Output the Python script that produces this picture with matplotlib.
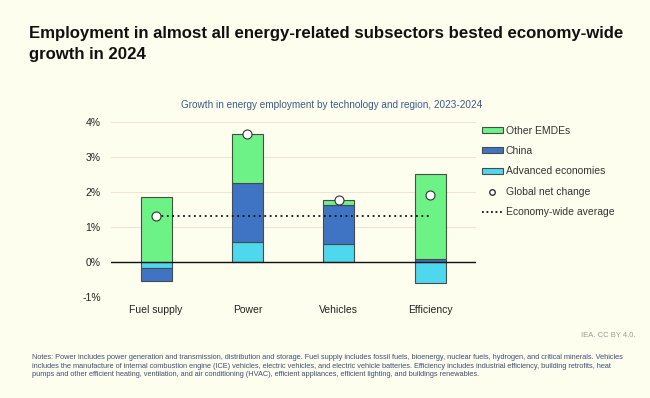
import matplotlib.pyplot as plt
import numpy as np
from matplotlib.patches import Patch
from matplotlib.lines import Line2D

plt.rcParams['font.family'] = ['Liberation Sans', 'DejaVu Sans']

# data (percent growth 2023-2024)
sectors = ['Fuel supply', 'Power', 'Vehicles', 'Efficiency']
advanced = [-0.17, 0.56, 0.52, -0.61]
china = [-0.37, 1.69, 1.10, 0.09]
other_emdes = [1.87, 1.40, 0.15, 2.44]
net_change = [1.32, 3.65, 1.77, 1.92]
economy_avg = 1.31

bg = '#FEFEEF'
c_other = '#6CF285'
c_china = '#3F74C4'
c_adv = '#4DD8EE'
edge = '#4A4A4A'

fig = plt.figure(figsize=(6.5, 3.98), dpi=100, facecolor=bg)
ax = fig.add_axes([0.170, 0.254, 0.562, 0.439])
ax.set_facecolor(bg)

x = np.arange(len(sectors))
w = 0.34

# stack positives up from zero and negatives down from zero
pos_base = np.zeros(len(x))
neg_base = np.zeros(len(x))
for vals, col in [(advanced, c_adv), (china, c_china), (other_emdes, c_other)]:
    vals = np.array(vals)
    bottoms = np.where(vals >= 0, pos_base, neg_base)
    ax.bar(x, vals, w, bottom=bottoms, color=col, edgecolor=edge, linewidth=0.8, zorder=3)
    pos_base = pos_base + np.where(vals >= 0, vals, 0)
    neg_base = neg_base + np.where(vals < 0, vals, 0)

ax.plot([x[0], x[-1]], [economy_avg, economy_avg], color='#111111', linestyle=(0, (1, 2)), linewidth=1.3, zorder=4)
ax.scatter(x, net_change, s=42, facecolor='white', edgecolor='#333333', linewidth=0.8, zorder=5)

ax.axhline(0, color='#111111', linewidth=1.0, zorder=4)
ax.set_xlim(-0.5, 3.5)
ax.set_ylim(-1, 4)
ax.set_yticks([-1, 0, 1, 2, 3, 4])
ax.set_yticklabels(['-1%', '0%', '1%', '2%', '3%', '4%'])
ax.set_xticks(x)
ax.set_xticklabels(sectors)
ax.grid(axis='y', color='#EFE3D3', linewidth=0.8, zorder=0)
ax.tick_params(length=0, labelsize=7.5, colors='#222222')
ax.tick_params(axis='x', pad=6)
ax.tick_params(axis='y', pad=7)
for s in ax.spines.values():
    s.set_visible(False)

handles = [
    Patch(facecolor=c_other, edgecolor=edge, linewidth=0.8, label='Other EMDEs'),
    Patch(facecolor=c_china, edgecolor=edge, linewidth=0.8, label='China'),
    Patch(facecolor=c_adv, edgecolor=edge, linewidth=0.8, label='Advanced economies'),
    Line2D([], [], marker='o', linestyle='none', markerfacecolor='white', markeredgecolor='#333333',
           markersize=4, label='Global net change'),
    Line2D([], [], color='#111111', linestyle=(0, (1, 1.5)), linewidth=1.3, label='Economy-wide average'),
]
fig.legend(handles=handles, loc='upper left', bbox_to_anchor=(0.727, 0.708), frameon=False,
           fontsize=7.5, handlelength=2.0, handleheight=0.5, handletextpad=0.3, labelspacing=1.0,
           labelcolor='#333333')

fig.text(0.045, 0.935, 'Employment in almost all energy-related subsectors bested economy-wide\ngrowth in 2024',
         fontsize=12.1, fontweight='bold', color='#111111', va='top', linespacing=1.5)
fig.text(0.51, 0.735, 'Growth in energy employment by technology and region, 2023-2024',
         fontsize=7.2, color='#3C5A8C', ha='center', va='center')
fig.text(0.977, 0.158, 'IEA. CC BY 4.0.', fontsize=5.5, color='#A09A90', ha='right', va='center')
notes = ('Notes: Power includes power generation and transmission, distribution and storage. Fuel supply includes fossil fuels, bioenergy, nuclear fuels, hydrogen, and critical minerals. Vehicles\n'
         'includes the manufacture of internal combustion engine (ICE) vehicles, electric vehicles, and electric vehicle batteries. Efficiency includes industrial efficiency, building retrofits, heat\n'
         'pumps and other efficient heating, ventilation, and air conditioning (HVAC), efficient appliances, efficient lighting, and buildings renewables.')
fig.text(0.049, 0.110, notes, fontsize=5.3, color='#3C4E78', ha='left', va='top', linespacing=1.3)

fig.savefig('out.png', dpi=100, facecolor=bg)
